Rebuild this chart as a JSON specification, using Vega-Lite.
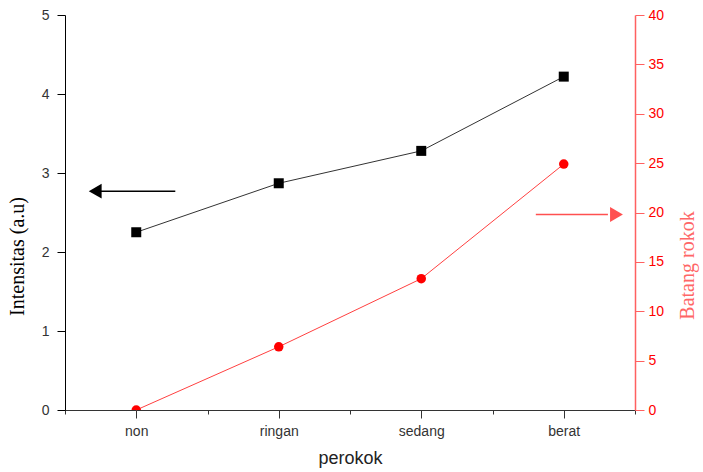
{
  "$schema": "https://vega.github.io/schema/vega-lite/v6.json",
  "autosize": "none",
  "width": 570,
  "height": 395,
  "padding": {"left": 65, "top": 15, "right": 68, "bottom": 62},
  "config": {"view": {"stroke": null}, "axis": {"grid": false}},
  "datasets": {
    "main": [
      {"k": 0, "kategori": "non", "intensitas": 2.25, "batang": 0},
      {"k": 1, "kategori": "ringan", "intensitas": 2.87, "batang": 6.4},
      {"k": 2, "kategori": "sedang", "intensitas": 3.28, "batang": 13.3},
      {"k": 3, "kategori": "berat", "intensitas": 4.22, "batang": 24.9}
    ],
    "arrowLeft": [{"x1": 0.274, "x2": -0.25, "head": -0.288, "y": 2.77}],
    "arrowRight": [{"x1": 2.804, "x2": 3.31, "head": 3.37, "y": 19.8}]
  },
  "encoding": {
    "x": {
      "field": "k", "type": "quantitative",
      "scale": {"domain": [-0.5, 3.5], "nice": false, "zero": false},
      "axis": {
        "title": "perokok",
        "titleFont": "Liberation Sans", "titleFontSize": 18, "titleFontWeight": "normal", "titleColor": "#222", "titlePadding": 11,
        "values": [-0.5, 0, 0.5, 1, 1.5, 2, 2.5, 3, 3.5],
        "labelExpr": "datum.value == 0 ? 'non' : datum.value == 1 ? 'ringan' : datum.value == 2 ? 'sedang' : datum.value == 3 ? 'berat' : ''",
        "labelFont": "Liberation Sans", "labelFontSize": 14, "labelColor": "#333", "labelPadding": 6,
        "labelFlush": false, "labelOverlap": false,
        "domainColor": "#333", "tickColor": "#333",
        "tickSize": {"condition": {"test": "datum.value % 1 === 0", "value": 8}, "value": 4}
      }
    }
  },
  "layer": [
    {
      "layer": [
        {
          "data": {"name": "main"},
          "mark": {"type": "line", "color": "#333", "strokeWidth": 1},
          "encoding": {"y": {"field": "intensitas", "type": "quantitative",
            "scale": {"domain": [0, 5], "nice": false},
            "axis": {
              "orient": "left", "title": "Intensitas (a.u)", "titleY": 241,
              "titleFont": "Liberation Serif", "titleFontSize": 20, "titleFontWeight": "normal", "titleColor": "#000", "titlePadding": 14,
              "values": [0, 0.5, 1, 1.5, 2, 2.5, 3, 3.5, 4, 4.5, 5],
              "format": "~g",
              "labelExpr": "datum.value % 1 === 0 ? datum.label : ''",
              "labelFont": "Liberation Sans", "labelFontSize": 14, "labelColor": "#333", "labelPadding": 8,
              "labelFlush": false, "labelOverlap": false,
              "domainColor": "#000", "tickColor": "#000",
              "tickSize": {"condition": {"test": "datum.value % 1 === 0", "value": 8}, "value": 5}
            }}}
        },
        {
          "data": {"name": "main"},
          "mark": {"type": "point", "shape": "square", "filled": true, "color": "#000", "size": 100, "opacity": 1},
          "encoding": {"y": {"field": "intensitas", "type": "quantitative"}}
        },
        {
          "data": {"name": "arrowLeft"},
          "mark": {"type": "rule", "color": "#000", "strokeWidth": 1.5},
          "encoding": {"x": {"field": "x1", "type": "quantitative"}, "x2": {"field": "x2"}, "y": {"field": "y", "type": "quantitative"}}
        },
        {
          "data": {"name": "arrowLeft"},
          "mark": {"type": "point", "shape": "triangle-left", "filled": true, "color": "#000", "size": 220, "opacity": 1},
          "encoding": {"x": {"field": "head", "type": "quantitative"}, "y": {"field": "y", "type": "quantitative"}}
        }
      ]
    },
    {
      "layer": [
        {
          "data": {"name": "main"},
          "mark": {"type": "line", "color": "#ff4040", "strokeWidth": 1},
          "encoding": {"y": {"field": "batang", "type": "quantitative",
            "scale": {"domain": [0, 40], "nice": false},
            "axis": {
              "orient": "right", "title": "Batang rokok", "titleAngle": 270, "titleY": 250,
              "titleFont": "Liberation Serif", "titleFontSize": 20, "titleFontWeight": "normal", "titleColor": "#ff6666", "titlePadding": 34,
              "values": [0, 2.5, 5, 7.5, 10, 12.5, 15, 17.5, 20, 22.5, 25, 27.5, 30, 32.5, 35, 37.5, 40],
              "format": "~g",
              "labelExpr": "datum.value % 5 === 0 ? datum.label : ''",
              "labelFont": "Liberation Sans", "labelFontSize": 14, "labelColor": "#ff0000", "labelPadding": 4,
              "labelFlush": false, "labelOverlap": false,
              "domainColor": "#ff6060", "tickColor": "#ff6060", "domainWidth": 1.5,
              "tickSize": {"condition": {"test": "datum.value % 5 === 0", "value": 9}, "value": 5}
            }}}
        },
        {
          "data": {"name": "main"},
          "mark": {"type": "point", "shape": "circle", "filled": true, "color": "#ff0000", "size": 90, "opacity": 1, "clip": true},
          "encoding": {"y": {"field": "batang", "type": "quantitative"}}
        },
        {
          "data": {"name": "arrowRight"},
          "mark": {"type": "rule", "color": "#ff5050", "strokeWidth": 1.5},
          "encoding": {"x": {"field": "x1", "type": "quantitative"}, "x2": {"field": "x2"}, "y": {"field": "y", "type": "quantitative"}}
        },
        {
          "data": {"name": "arrowRight"},
          "mark": {"type": "point", "shape": "triangle-right", "filled": true, "color": "#ff5050", "size": 220, "opacity": 1},
          "encoding": {"x": {"field": "head", "type": "quantitative"}, "y": {"field": "y", "type": "quantitative"}}
        }
      ]
    }
  ],
  "resolve": {"scale": {"y": "independent"}}
}
